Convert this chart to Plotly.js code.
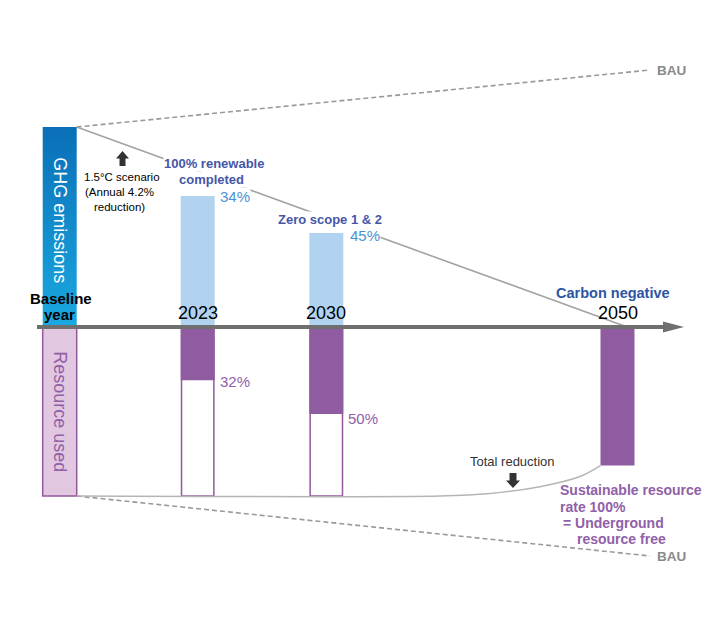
<!DOCTYPE html>
<html>
<head>
<meta charset="utf-8">
<script src="https://cdn.plot.ly/plotly-3.0.1.min.js"></script>
<style>html,body{margin:0;padding:0;background:#fff;}#chart{width:720px;height:630px;}</style>
</head>
<body>
<div id="chart"></div>
<script>
// ---------------- data ----------------
const categories = ["Baseline year", "2023", "2030", "2050"];
const ghgEmissions = [100, 65.5, 47, 0];            // % of baseline GHG (bar heights)
const ghgReductionLabels = ["", "34%", "45%", ""];
const resourceTotal = [100, 100, 100, null];        // resource-used outline boxes
const resourceReduction = [0, 31.5, 51.5, 82];      // filled (reduced / sustainable) part
const resourceReductionLabels = ["", "32%", "50%", ""];
const scenario15 = [100, 0];                        // 1.5°C path, baseline -> 2050
const bauGhg = [100, 128.5];                        // BAU GHG, baseline -> far right
const bauResource = [100, 135.5];                   // BAU resource, baseline -> far right
const totalReductionPath = [100, 100, 98.5, 94.5, 88.5, 82]; // resource total reduction curve

// ---------------- layout helpers ----------------
const slot = {"Baseline year": 0, "2023": 1, "2030": 1.932, "2050": 4.042};
const W = 0.2464;                         // bar width (slot units)
const xs = categories.map(c => slot[c]);
const rightEnd = 4.277;
const curveX = [W/2, 2.756, 3.118, 3.48, 3.77, slot["2050"] - W/2];
const FONT = "Liberation Sans, Arial, Helvetica, sans-serif";
const P = (x, y) => ({x: x/720, y: 1 - y/630, xref: 'paper', yref: 'paper'});
const path = pts => 'M ' + pts.map(p => (p[0]/720).toFixed(5) + ' ' + (1 - p[1]/630).toFixed(5)).join(' L ') + ' Z';

const purple = '#8f5ca1';
const purpleLine = '#93589d';
const txtPurple = '#9060a8';

// ---------------- traces ----------------
const traces = [];

// baseline GHG bar with gradient
const b0 = xs[0];
traces.push({
  type: 'scatter', mode: 'lines', xaxis: 'x', yaxis: 'y',
  x: [b0 - W/2, b0 + W/2, b0 + W/2, b0 - W/2, b0 - W/2],
  y: [0, 0, ghgEmissions[0], ghgEmissions[0], 0],
  fill: 'toself', line: {width: 0, color: 'rgba(0,0,0,0)'},
  fillgradient: {type: 'vertical', colorscale: [[0, '#1aa9e1'], [1, '#0a6fb7']]},
  hoverinfo: 'skip'
});

// GHG bars for later years
traces.push({
  type: 'bar', xaxis: 'x', yaxis: 'y',
  x: xs.slice(1), y: ghgEmissions.slice(1), width: W,
  marker: {color: '#b2d3f0', line: {width: 0}}, hoverinfo: 'skip'
});

// baseline resource bar
traces.push({
  type: 'bar', xaxis: 'x', yaxis: 'y2',
  x: [xs[0]], y: [resourceTotal[0]], width: W,
  marker: {color: '#e1c7e0', line: {width: 1.5, color: purpleLine}}, hoverinfo: 'skip'
});
// outline boxes
traces.push({
  type: 'bar', xaxis: 'x', yaxis: 'y2',
  x: xs.slice(1), y: resourceTotal.slice(1), width: W - 0.012,
  marker: {color: '#ffffff', line: {width: 1.5, color: purpleLine}}, hoverinfo: 'skip'
});
// filled reduction
traces.push({
  type: 'bar', xaxis: 'x', yaxis: 'y2',
  x: xs.slice(1), y: resourceReduction.slice(1), width: W,
  marker: {color: purple, line: {width: 0}}, hoverinfo: 'skip'
});

// 1.5°C scenario line
traces.push({
  type: 'scatter', mode: 'lines', xaxis: 'x', yaxis: 'y',
  x: [xs[0] + W/2, slot["2050"] + 0.07], y: scenario15,
  line: {color: '#a3a3a3', width: 1.6}, hoverinfo: 'skip'
});
// BAU lines
traces.push({
  type: 'scatter', mode: 'lines', xaxis: 'x', yaxis: 'y',
  x: [xs[0] + W/2, rightEnd], y: bauGhg,
  line: {color: '#9a9a9a', width: 1.6, dash: '5px,3px'}, hoverinfo: 'skip'
});
traces.push({
  type: 'scatter', mode: 'lines', xaxis: 'x', yaxis: 'y2',
  x: [xs[0] + W/2, rightEnd], y: bauResource,
  line: {color: '#9a9a9a', width: 1.6, dash: '5px,3px'}, hoverinfo: 'skip'
});
// total reduction curve
traces.push({
  type: 'scatter', mode: 'lines', xaxis: 'x', yaxis: 'y2',
  x: curveX, y: totalReductionPath,
  line: {color: '#b5b5b5', width: 1.5, shape: 'spline', smoothing: 0.8}, hoverinfo: 'skip'
});

// ---------------- annotations ----------------
function T(text, x, y, o) {
  o = o || {};
  return Object.assign(P(x, y), {
    text: text, showarrow: false,
    xanchor: o.xanchor || 'center', yanchor: 'middle',
    textangle: o.angle || 0,
    bgcolor: o.bg || 'rgba(0,0,0,0)', borderpad: 0,
    font: {family: FONT, size: o.size || 13, color: o.color || '#000', weight: o.weight || 400}
  });
}
const blueTxt = '#4656a7';
const pctBlue = '#4a93d3';
const ann = [
  T('GHG emissions', 59.7, 220, {angle: 90, size: 18, color: '#ffffff'}),
  T('Resource used', 59.7, 412, {angle: 90, size: 18, color: txtPurple}),
  T('Baseline', 61, 298, {size: 15, weight: 700}),
  T('year', 59.7, 314, {size: 15, weight: 700}),
  T(categories[1], 197.5, 313, {size: 18}),
  T(categories[2], 326.3, 313, {size: 18}),
  T(categories[3], 618, 313, {size: 18}),
  T('Carbon negative', 613, 293, {size: 14.5, weight: 700, color: '#2c55a5'}),
  T('100% renewable', 214, 164, {size: 13, weight: 700, color: blueTxt, bg: '#fff'}),
  T('completed', 211.7, 179, {size: 13, weight: 700, color: blueTxt, bg: '#fff'}),
  T(ghgReductionLabels[1], 235, 196.5, {size: 15, color: pctBlue, bg: '#fff'}),
  T('Zero scope 1 & 2', 330, 219, {size: 13, weight: 700, color: blueTxt, bg: '#fff'}),
  T(ghgReductionLabels[2], 365, 235.5, {size: 15, color: pctBlue, bg: '#fff'}),
  T('1.5°C scenario', 121.7, 177, {size: 11.5}),
  T('(Annual 4.2%', 119.3, 192, {size: 11.5}),
  T('reduction)', 119.7, 207, {size: 11.5}),
  T(resourceReductionLabels[1], 234.5, 381.5, {size: 15, color: txtPurple}),
  T(resourceReductionLabels[2], 363, 418.5, {size: 15, color: txtPurple}),
  T('Total reduction', 512, 462, {size: 13, color: '#333'}),
  T('Sustainable resource', 559, 490, {size: 14, weight: 700, color: txtPurple, xanchor: 'left'}),
  T('rate 100%', 559, 506.5, {size: 14, weight: 700, color: txtPurple, xanchor: 'left'}),
  T('= Underground', 561.5, 523, {size: 14, weight: 700, color: txtPurple, xanchor: 'left'}),
  T('resource free', 576, 538.5, {size: 14, weight: 700, color: txtPurple, xanchor: 'left'}),
  T('BAU', 655.5, 70.5, {size: 13.5, weight: 700, color: '#8a8a8a', xanchor: 'left'}),
  T('BAU', 655.5, 556.5, {size: 13.5, weight: 700, color: '#8a8a8a', xanchor: 'left'})
];

// ---------------- shapes ----------------
const shapes = [
  Object.assign({type: 'line', x0: 37/720, x1: 666/720, y0: 1 - 327/630, y1: 1 - 327/630,
    xref: 'paper', yref: 'paper', line: {color: '#6f6f6f', width: 4}}),
  {type: 'path', xref: 'paper', yref: 'paper', fillcolor: '#6f6f6f', line: {width: 0},
    path: path([[663, 321.5], [684, 327], [663, 332.5]])},
  {type: 'path', xref: 'paper', yref: 'paper', fillcolor: '#333333', line: {width: 0},
    path: path([[122.5, 151], [129, 158.5], [125.5, 158.5], [125.5, 166], [119.5, 166], [119.5, 158.5], [116, 158.5]])},
  {type: 'path', xref: 'paper', yref: 'paper', fillcolor: '#333333', line: {width: 0},
    path: path([[509.5, 473], [516.5, 473], [516.5, 480.5], [520, 480.5], [513, 488], [506, 480.5], [509.5, 480.5]])}
];

const layout = {
  width: 720, height: 630,
  margin: {l: 0, r: 0, t: 0, b: 0, pad: 0},
  paper_bgcolor: '#ffffff', plot_bgcolor: 'rgba(0,0,0,0)',
  showlegend: false, barmode: 'overlay', hovermode: false,
  xaxis: {range: [-59.7/138, (720-59.7)/138], visible: false, fixedrange: true},
  yaxis: {domain: [1 - 327/630, 1], range: [0, 327/2], visible: false, fixedrange: true},
  yaxis2: {domain: [0, 1 - 327/630], range: [(630-327)/1.69, 0], visible: false, fixedrange: true},
  annotations: ann,
  shapes: shapes
};

Plotly.newPlot('chart', traces, layout, {staticPlot: true, displayModeBar: false});
</script>
</body>
</html>
